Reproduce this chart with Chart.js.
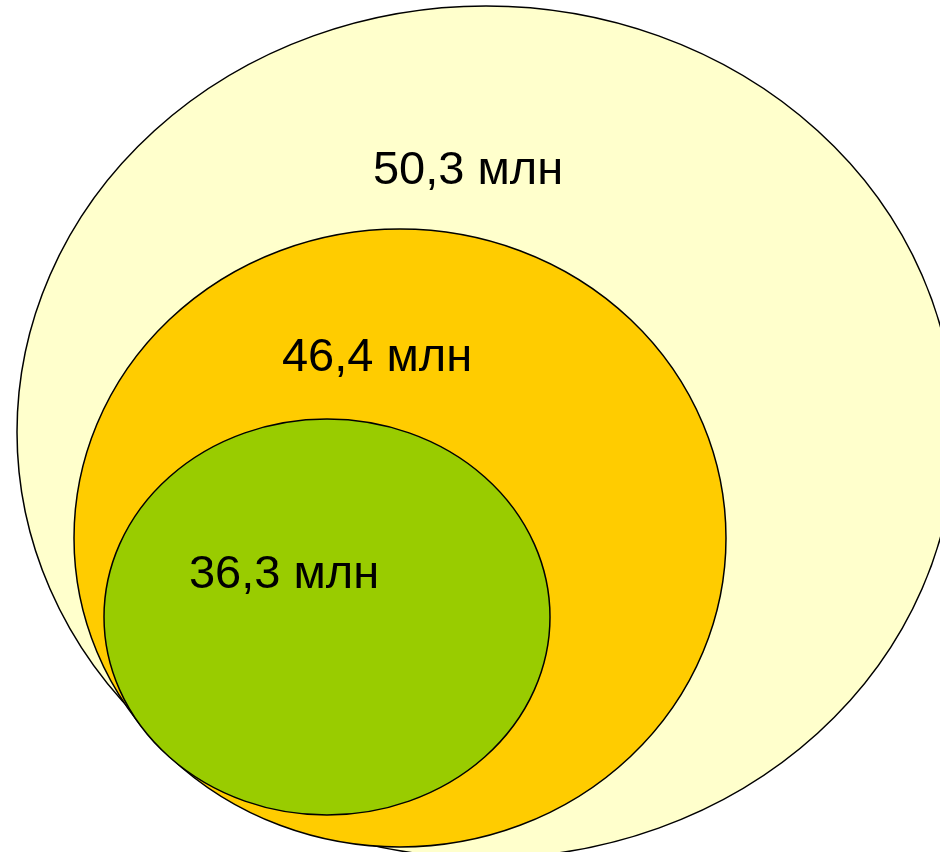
<!DOCTYPE html>
<html>
<head>
<meta charset="utf-8">
<script src="https://cdn.jsdelivr.net/npm/chart.js@4/dist/chart.umd.min.js"></script>
<style>
  html, body { margin: 0; padding: 0; background: #fff; }
  #wrap { width: 940px; height: 852px; }
</style>
</head>
<body>
<div id="wrap"><canvas id="chart" width="940" height="852"></canvas></div>
<script>
// values shown in the diagram (millions)
const values = [50.3, 46.4, 36.3];
// ellipse extents in diagram units (x: 0..940, y: 0..852 from top)
const centerX = [486, 400, 327];
const centerY = [432, 538, 617];
const radiusX = [469, 326, 223];
const radiusY = [426, 309, 198];
// where each value label sits
const labelX = [468, 377, 284];
const labelY = [171, 358, 575];
const fillColors = ['#FFFFCC', '#FFCC00', '#99CC00'];

const fmt = v => v.toFixed(1).replace('.', ',') + ' млн';

// draws each ellipse from its dataset point through the chart scales
const ellipsePlugin = {
  id: 'ellipses',
  beforeDatasetsDraw(chart) {
    const { ctx, scales: { x, y } } = chart;
    ctx.save();
    values.forEach((v, i) => {
      const cx = x.getPixelForValue(centerX[i]);
      const cy = y.getPixelForValue(centerY[i]);
      const rx = Math.abs(x.getPixelForValue(centerX[i] + radiusX[i]) - cx);
      const ry = Math.abs(y.getPixelForValue(centerY[i] + radiusY[i]) - cy);
      ctx.beginPath();
      ctx.ellipse(cx, cy, rx, ry, 0, 0, Math.PI * 2);
      ctx.fillStyle = fillColors[i];
      ctx.fill();
      ctx.lineWidth = 1.5;
      ctx.strokeStyle = '#000';
      ctx.stroke();
    });
    ctx.fillStyle = '#000';
    ctx.font = '47px "Liberation Sans", Arial, sans-serif';
    ctx.textAlign = 'center';
    ctx.textBaseline = 'middle';
    values.forEach((v, i) => {
      ctx.fillText(fmt(v), x.getPixelForValue(labelX[i]), y.getPixelForValue(labelY[i]));
    });
    ctx.restore();
  }
};

new Chart(document.getElementById('chart'), {
  type: 'scatter',
  data: {
    datasets: [{
      label: 'values',
      data: values.map((v, i) => ({ x: centerX[i], y: centerY[i] })),
      pointRadius: 0,
      pointHoverRadius: 0
    }]
  },
  options: {
    responsive: false,
    animation: false,
    layout: { padding: 0 },
    scales: {
      x: { type: 'linear', min: 0, max: 940, display: false },
      y: { type: 'linear', min: 0, max: 852, reverse: true, display: false }
    },
    plugins: {
      legend: { display: false },
      tooltip: { enabled: false }
    }
  },
  plugins: [ellipsePlugin]
});
</script>
</body>
</html>
